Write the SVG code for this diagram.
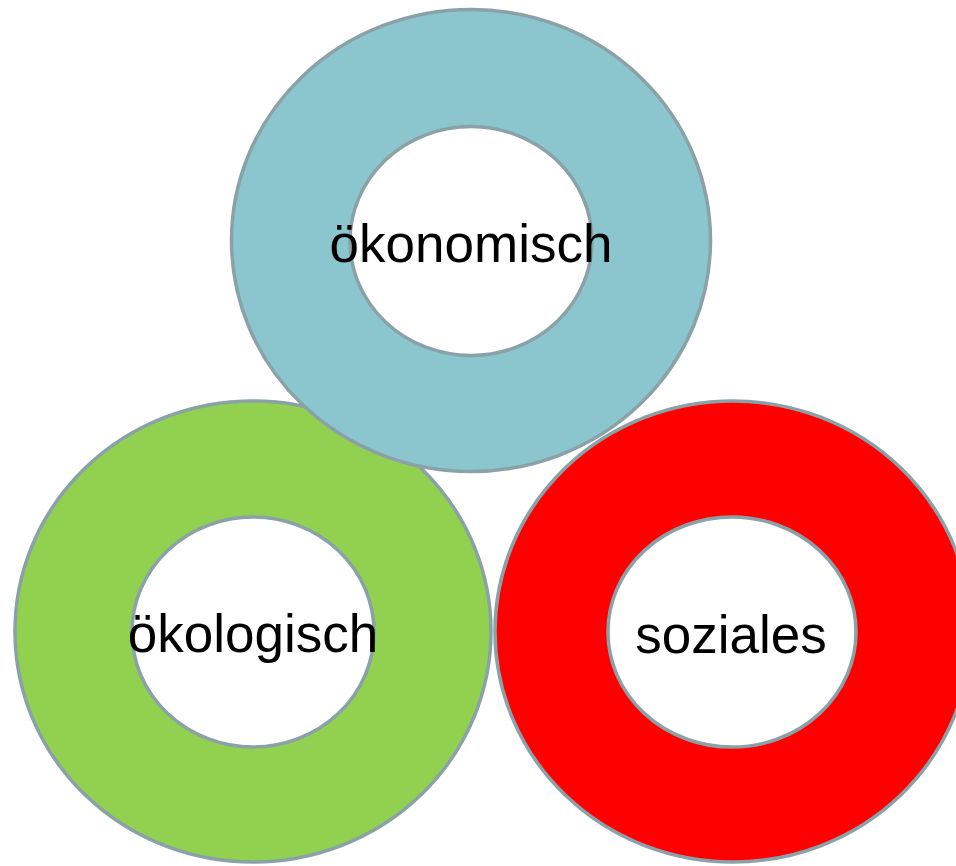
<svg xmlns="http://www.w3.org/2000/svg" width="956" height="866" viewBox="0 0 956 866">
<style>
.ring{fill-rule:evenodd;stroke:#8AA2A7;stroke-width:3.5}
.lbl{font-family:"Liberation Sans",Arial,sans-serif;font-size:53px;fill:#000;text-anchor:middle}
</style>
<rect width="956" height="866" fill="#fff"/>
<g id="oekologisch">
<path class="ring" fill="#92D050" d="M15,631.5 a238,230.5 0 1,0 476,0 a238,230.5 0 1,0 -476,0 Z M132,632 a121,115 0 1,1 242,0 a121,115 0 1,1 -242,0 Z"/>
<text class="lbl" x="253" y="652">ökologisch</text>
</g>
<g id="oekonomisch">
<path class="ring" fill="#8BC6CE" d="M231.5,240.5 a239.5,231 0 1,0 479,0 a239.5,231 0 1,0 -479,0 Z M350,241 a121,114.5 0 1,1 242,0 a121,114.5 0 1,1 -242,0 Z"/>
<text class="lbl" x="471" y="262">ökonomisch</text>
</g>
<g id="soziales">
<path class="ring" fill="#FF0000" d="M495,631.5 a238,230.5 0 1,0 476,0 a238,230.5 0 1,0 -476,0 Z M608,632 a124,115 0 1,1 248,0 a124,115 0 1,1 -248,0 Z"/>
<text class="lbl" x="731" y="653">soziales</text>
</g>
<g id="connectors"></g>
</svg>
